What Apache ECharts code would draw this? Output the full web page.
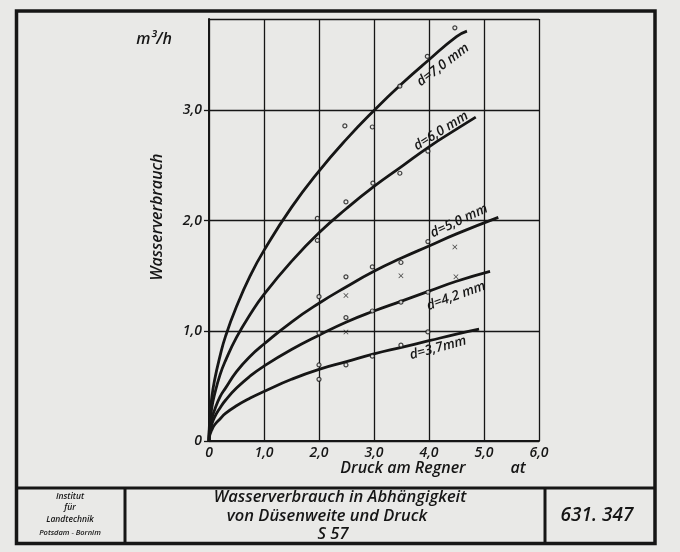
<!DOCTYPE html>
<html><head><meta charset="utf-8">
<script src="https://cdn.jsdelivr.net/npm/echarts@6/dist/echarts.min.js"></script>
<style>html,body{margin:0;padding:0;background:#e9e9e7}#c{width:680px;height:552px}</style>
</head><body><div id="c"></div>
<script>
// Pressure (at) positions where curve values were read
const xD70 = [0, 0.01, 0.05, 0.1, 0.2, 0.3, 0.5, 0.75, 1, 1.5, 2, 2.5, 3, 3.5, 4, 4.5, 4.69];
const yD70 = [0, 0.17, 0.39, 0.55, 0.77, 0.95, 1.22, 1.50, 1.73, 2.12, 2.45, 2.74, 3.0, 3.24, 3.46, 3.67, 3.72];
const xD60 = [0, 0.01, 0.05, 0.1, 0.2, 0.3, 0.5, 0.75, 1, 1.5, 2, 2.5, 3, 3.5, 4, 4.5, 4.85];
const yD60 = [0, 0.13, 0.30, 0.42, 0.60, 0.73, 0.94, 1.15, 1.33, 1.63, 1.89, 2.11, 2.31, 2.49, 2.67, 2.83, 2.94];
const xD50 = [0, 0.01, 0.05, 0.1, 0.2, 0.3, 0.5, 0.75, 1, 1.5, 2, 2.5, 3, 3.5, 4, 4.5, 5.26];
const yD50 = [0, 0.09, 0.20, 0.28, 0.40, 0.48, 0.63, 0.77, 0.88, 1.08, 1.25, 1.40, 1.54, 1.66, 1.77, 1.88, 2.03];
const xD42 = [0, 0.01, 0.05, 0.1, 0.2, 0.3, 0.5, 0.75, 1, 1.5, 2, 2.5, 3, 3.5, 4, 4.5, 5.11];
const yD42 = [0, 0.07, 0.15, 0.215, 0.30, 0.37, 0.48, 0.59, 0.68, 0.83, 0.96, 1.08, 1.18, 1.27, 1.36, 1.45, 1.54];
const xD37 = [0, 0.01, 0.05, 0.1, 0.2, 0.3, 0.5, 0.75, 1, 1.5, 2, 2.5, 3, 3.5, 4, 4.5, 4.91];
const yD37 = [0, 0.045, 0.10, 0.145, 0.20, 0.25, 0.32, 0.39, 0.45, 0.56, 0.65, 0.72, 0.79, 0.85, 0.91, 0.97, 1.015];
// measured points (circles)
const ptX = [4.47, 3.97, 3.47, 2.47, 2.97, 3.98, 3.47, 2.98, 2.49, 1.97, 1.97, 3.98, 3.49, 2.97, 2.49, 2.0, 3.49, 2.97, 3.98, 2.49, 2.0, 3.98, 3.49, 2.97, 2.49, 2.0, 2.0];
const ptY = [3.75, 3.49, 3.22, 2.86, 2.85, 2.63, 2.43, 2.34, 2.17, 2.02, 1.82, 1.81, 1.62, 1.58, 1.49, 1.31, 1.26, 1.18, 1.35, 1.12, 0.98, 0.99, 0.87, 0.77, 0.69, 0.69, 0.56];
// measured points (crosses)
const crX = [4.47, 3.49, 4.49, 2.49, 2.49];
const crY = [1.76, 1.50, 1.49, 1.32, 0.99];
const xTicks = ['0', '1,0', '2,0', '3,0', '4,0', '5,0', '6,0'];
const yTicks = ['0', '1,0', '2,0', '3,0'];
const curveNames = ['d=7,0 mm', 'd=6,0 mm', 'd=5,0 mm', 'd=4,2 mm', 'd=3,7mm'];

const zip = (a, b) => a.map((v, i) => [v, b[i]]);
const FONT = 'Open Sans';
const INK = '#161616';
const chart = echarts.init(document.getElementById('c'));
const lineSeries = [[xD70, yD70], [xD60, yD60], [xD50, yD50], [xD42, yD42], [xD37, yD37]].map((p, i) => ({
  type: 'line', name: curveNames[i], data: zip(p[0], p[1]), smooth: 0.5, showSymbol: false,
  lineStyle: { color: INK, width: 2.8 }, silent: true, z: 3
}));
const txt = (x, y, s, size, opts) => Object.assign({
  type: 'text', x: x, y: y,
  style: Object.assign({ text: s, fill: INK, font: `italic 600 ${size}px "${FONT}"`, textAlign: 'center', textVerticalAlign: 'middle' }, (opts || {}).style || {})
}, opts && opts.rotation !== undefined ? { rotation: opts.rotation } : {});
const deg = Math.PI / 180;
chart.setOption({
  backgroundColor: '#e9e9e7',
  animation: false,
  grid: { left: 209, right: 141, top: 19, bottom: 111 },
  xAxis: {
    type: 'value', min: 0, max: 6, interval: 1,
    axisLine: { show: true, lineStyle: { color: INK, width: 2 } },
    axisTick: { show: false },
    axisLabel: { color: INK, fontFamily: FONT, fontStyle: 'italic', fontWeight: 600, fontSize: 14, margin: 5, formatter: v => xTicks[Math.round(v)] },
    splitLine: { show: true, lineStyle: { color: INK, width: 1.3 } }
  },
  yAxis: {
    type: 'value', min: 0, max: 3.83, interval: 1,
    axisLine: { show: true, lineStyle: { color: INK, width: 2 } },
    axisTick: { show: true, length: 5, lineStyle: { color: INK, width: 1.3 } },
    axisLabel: { color: INK, fontFamily: FONT, fontStyle: 'italic', fontWeight: 600, fontSize: 14, margin: 7, showMaxLabel: false,
      formatter: v => (Math.abs(v - Math.round(v)) < 1e-6 && Math.round(v) < yTicks.length) ? yTicks[Math.round(v)] : '' },
    splitLine: { show: true, lineStyle: { color: INK, width: 1.3 } }
  },
  series: lineSeries.concat([
    { type: 'scatter', data: zip(ptX, ptY), symbol: 'circle', symbolSize: 4,
      itemStyle: { color: '#e9e9e7', borderColor: INK, borderWidth: 1.2 }, silent: true, z: 4 },
    { type: 'scatter', data: zip(crX, crY), symbol: 'path://M0,1L1,0L5,4L9,0L10,1L6,5L10,9L9,10L5,6L1,10L0,9L4,5Z', symbolSize: 5,
      itemStyle: { color: INK }, silent: true, z: 4 }
  ]),
  graphic: [
    { type: 'rect', shape: { x: 16.5, y: 11, width: 638.5, height: 532.5 }, style: { fill: 'none', stroke: INK, lineWidth: 3.5 } },
    { type: 'line', shape: { x1: 16.5, y1: 488, x2: 655, y2: 488 }, style: { stroke: INK, lineWidth: 3 } },
    { type: 'line', shape: { x1: 125, y1: 488, x2: 125, y2: 543 }, style: { stroke: INK, lineWidth: 3 } },
    { type: 'line', shape: { x1: 545, y1: 488, x2: 545, y2: 543 }, style: { stroke: INK, lineWidth: 3 } },
    txt(154, 39, 'm³/h', 16),
    txt(157, 217, 'Wasserverbrauch', 16, { rotation: 90 * deg }),
    txt(403, 468, 'Druck am Regner', 16),
    txt(518, 468, 'at', 16),
    txt(443, 65, curveNames[0], 13.5, { rotation: 37 * deg }),
    txt(441, 131, curveNames[1], 13.5, { rotation: 32 * deg }),
    txt(459, 221, curveNames[2], 13.5, { rotation: 25 * deg }),
    txt(456, 296, curveNames[3], 13.5, { rotation: 20 * deg }),
    txt(438, 348, curveNames[4], 13.5, { rotation: 15 * deg }),
    txt(70, 497, 'Institut', 8.5),
    txt(70, 508, 'für', 8.5),
    txt(70, 520, 'Landtechnik', 8.5),
    txt(70, 533, 'Potsdam - Bornim', 7.5),
    txt(340, 497, 'Wasserverbrauch in Abhängigkeit', 16.5),
    txt(327, 516, 'von Düsenweite und Druck', 16.5),
    txt(333, 534, 'S 57', 16.5),
    txt(597, 516, '631. 347', 19)
  ]
});
</script></body></html>
